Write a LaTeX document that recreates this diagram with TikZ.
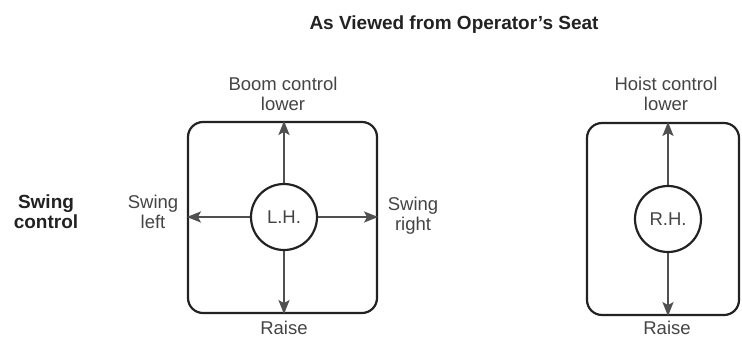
\documentclass[tikz,border=0pt]{standalone}
\usepackage{fontspec}
\setmainfont{Liberation Sans}
\usetikzlibrary{arrows.meta}
\definecolor{txt}{HTML}{444444}
\definecolor{arr}{HTML}{505050}
\definecolor{frame}{HTML}{222222}
\tikzset{
  lbl/.style={anchor=base, inner sep=0pt, text=txt, font=\fontsize{18.5}{20}\selectfont},
  blbl/.style={anchor=base, inner sep=0pt, text=frame, font=\fontsize{19}{20}\selectfont\bfseries},
  panel/.style={draw=frame, line width=2.2pt, rounded corners=15pt, inner sep=0pt},
  knob/.style={circle, draw=frame, line width=2.2pt, minimum size=66pt, inner sep=0pt, text=txt, font=\fontsize{18.5}{20}\selectfont},
  mv/.style={draw=arr, line width=2.2pt, -{Stealth[length=14pt,width=11pt,inset=3pt]}}
}
\begin{document}
\begin{tikzpicture}[x=1pt,y=-1pt]
\useasboundingbox (0,0) rectangle (742,341);
\clip (0,0) rectangle (742,341);
% title
\node[blbl] (title) at (454,29) {As Viewed from Operator's Seat};
% left panel
\node[panel, minimum width=189pt, minimum height=191pt] (lbox) at (282.5,217.5) {};
\node[knob] (lh) at (284,217) {L.H.};
\draw[mv] (lh.north) -- (lh.north |- lbox.north);
\draw[mv] (lh.south) -- (lh.south |- lbox.south);
\draw[mv] (lh.west) -- (lh.west -| lbox.west);
\draw[mv] (lh.east) -- (lh.east -| lbox.east);
\node[lbl] (boom1) at (283,90) {Boom control};
\node[lbl] (boom2) at (283,110) {lower};
\node[lbl] (raiseL) at (284,334) {Raise};
\node[lbl] (sl1) at (153,208) {Swing};
\node[lbl] (sl2) at (153,228) {left};
\node[lbl] (sr1) at (413,210) {Swing};
\node[lbl] (sr2) at (413,230) {right};
\node[blbl] (sc1) at (46,208) {Swing};
\node[blbl] (sc2) at (46,228) {control};
% right panel
\node[panel, minimum width=152pt, minimum height=192pt] (rbox) at (663,219) {};
\node[knob] (rh) at (668,219) {R.H.};
\draw[mv] (rh.north) -- (rh.north |- rbox.north);
\draw[mv] (rh.south) -- (rh.south |- rbox.south);
\node[lbl] (hoist1) at (666,90) {Hoist control};
\node[lbl] (hoist2) at (666,110) {lower};
\node[lbl] (raiseR) at (667,334) {Raise};
\end{tikzpicture}
\end{document}
